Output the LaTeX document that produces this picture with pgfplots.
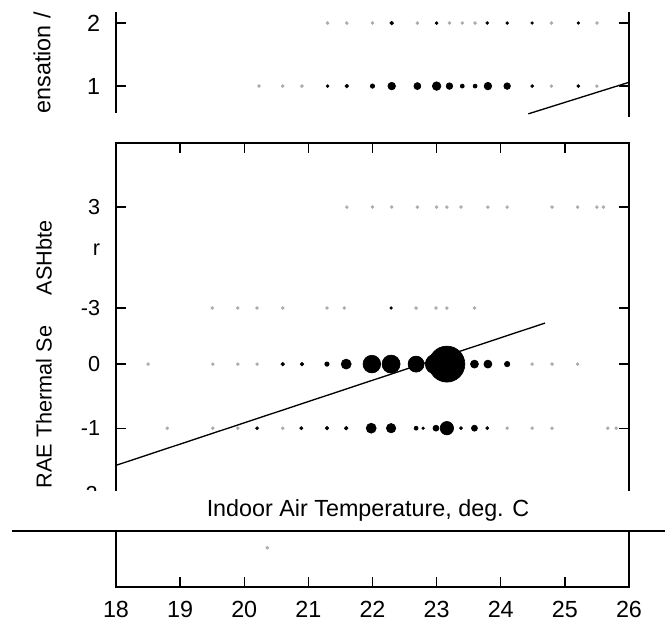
\documentclass[border=0pt]{standalone}
\usepackage{fontspec}
\setmainfont{Liberation Sans}
\usepackage{pgfplots}
\usepackage{pgfplotstable}
\pgfplotsset{compat=1.18}

% black dots: temperature, row position, radius (px)
\pgfplotstableread{
x y r
22.3 2 1.8
23.0 2 1.4
23.79 2 1.4
24.1 2 1.4
24.49 2 1.3
25.21 2 1.3
21.3 1 1.4
21.6 1 1.8
22.0 1 2.2
22.3 1 3.8
22.7 1 3.5
23.0 1 4.3
23.2 1 3.3
23.4 1 2.0
23.6 1 2.0
23.8 1 3.8
24.1 1 3.3
24.49 1 1.5
25.21 1 1.5
}\topblack
\pgfplotstableread{
x y
21.3 2
21.6 2
22.0 2
22.7 2
23.2 2
23.4 2
23.6 2
24.79 2
25.5 2
20.23 1
20.6 1
20.9 1
24.79 1
25.5 1
}\topgrey
\pgfplotstableread{
x y r
20.6 0 1.8
20.9 0 1.8
21.29 0 2.2
21.59 0 5
21.99 0 8.8
22.29 0 9
22.68 0 8
22.98 0 10
23.16 0 18
23.59 0 4
23.80 0 4
24.10 0 2.7
20.2 -1 1.5
20.89 -1 1.6
21.29 -1 1.8
21.59 -1 1.8
21.98 -1 5
22.29 -1 4.7
22.68 -1 2
22.79 -1 1.3
22.99 -1 3
23.16 -1 6.7
23.38 -1 1.5
23.59 -1 3
23.79 -1 1.5
22.29 0.875 1.3
}\midblack
\pgfplotstableread{
x y
18.5 0
19.51 0
19.9 0
20.2 0
24.49 0
24.8 0
25.2 0
18.8 -1
19.51 -1
19.9 -1
20.6 -1
24.1 -1
24.49 -1
24.8 -1
25.67 -1
25.8 -1
19.5 0.875
19.9 0.875
20.2 0.875
20.6 0.875
21.29 0.875
21.56 0.875
22.68 0.875
22.99 0.875
23.16 0.875
23.59 0.875
21.6 2.45
22.0 2.45
22.3 2.45
22.7 2.45
23.0 2.45
23.16 2.45
23.38 2.45
23.8 2.45
24.1 2.45
24.8 2.45
25.2 2.45
25.5 2.45
25.6 2.45
}\midgrey

\pgfplotsset{
  panel/.style={
    scale only axis, width=307.8pt, anchor=south west,
    xmin=18, xmax=26,
    axis line style={draw=none},
    tick align=inside, major tick length=6pt,
    tick style={black, line width=0.8pt},
    tick label style={font=\fontsize{14}{16}\selectfont},
    /pgf/number format/assume math mode=true,
    clip=false,
  },
  dots/.style={only marks, mark=*, scatter,
    scatter/use mapped color={draw=black, fill=black},
    visualization depends on={0.6*\thisrow{r} \as \rad},
    scatter/@pre marker code/.append style={/tikz/mark size=\rad}},
  greydots/.style={only marks, mark=*, mark size=0.85pt, gray!65},
}

\begin{document}
\begin{tikzpicture}[x=0.6pt, y=0.6pt]
\useasboundingbox (0,0) rectangle (670,625);

% top panel
\begin{axis}[panel, at={(69.6pt,304.8pt)}, height=63pt,
  ymin=0.51, ymax=2.175, xtick=\empty, ytick={1,2},
  yticklabel style={xshift=-6pt}]
  \draw[line width=0.9pt] (axis cs:18,0.57) -- (axis cs:18,2.175);
  \draw[line width=0.9pt] (rel axis cs:1,0) -- (rel axis cs:1,1);
  \addplot[greydots] table[x=x, y=y] {\topgrey};
  \addplot[dots] table[x=x, y=y] {\topblack};
  \addplot[black, line width=0.8pt] coordinates {(24.43,0.56) (26,1.06)};
\end{axis}

% middle panel
\begin{axis}[panel, at={(69.6pt,80.4pt)}, height=208.8pt,
  ymin=-1.98, ymax=3.45,
  xtick={19,...,25}, xtick pos=right, xticklabels=\empty,
  ytick={-1,0,0.875,2.45}, yticklabels={-1,0,-3,3},
  extra y ticks={1.78}, extra y tick labels={r},
  extra y tick style={major tick length=0pt},
  yticklabel style={xshift=-6pt, font=\fontsize{13}{15}\selectfont}]
  \draw[line width=0.9pt] (rel axis cs:0,0) -- (rel axis cs:0,1)
    -- (rel axis cs:1,1) -- (rel axis cs:1,0);
  \addplot[greydots] table[x=x, y=y] {\midgrey};
  \addplot[dots] table[x=x, y=y] {\midblack};
  \addplot[black, line width=0.8pt] coordinates {(18,-1.58) (24.69,0.64)};
\end{axis}

% bottom panel
\begin{axis}[panel, at={(69.6pt,22.8pt)}, height=33.6pt,
  ymin=0, ymax=1, ytick=\empty,
  xtick={18,...,26}, xtick pos=left,
  xticklabel style={yshift=-5pt}]
  \draw[line width=0.9pt] (rel axis cs:0,1) -- (rel axis cs:0,0)
    -- (rel axis cs:1,0) -- (rel axis cs:1,1);
  \addplot[greydots] coordinates {(20.36,0.7)};
\end{axis}

\draw[line width=1.6pt] (12,94) -- (665,94);
\node[font=\fontsize{14}{16}\selectfont] at (368,115)
  {Indoor Air Temperature, deg. C};

\node[rotate=90, font=\fontsize{14}{16}\selectfont] at (42,562) {ensation /};
\node[rotate=90, font=\fontsize{13}{15}\selectfont] at (44,367) {ASHbte};
\begin{scope}
  \clip (0,134) rectangle (670,625);
  \node[rotate=90, anchor=east, font=\fontsize{13}{15}\selectfont]
    at (44,305) {RAE Thermal Se};
  \node[anchor=north east, inner sep=0pt, font=\fontsize{13}{15}\selectfont]
    at (98,139) {2};
\end{scope}
\end{tikzpicture}
\end{document}
